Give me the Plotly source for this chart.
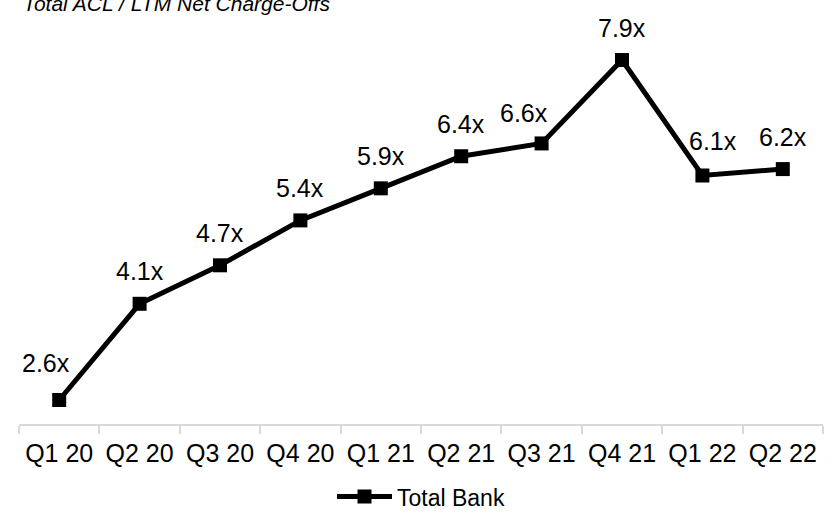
import plotly.graph_objects as go

quarters = ["Q1 20", "Q2 20", "Q3 20", "Q4 20", "Q1 21",
            "Q2 21", "Q3 21", "Q4 21", "Q1 22", "Q2 22"]
coverage = [2.6, 4.1, 4.7, 5.4, 5.9, 6.4, 6.6, 7.9, 6.1, 6.2]
labels = [f"{v:.1f}x" for v in coverage]

# per-label offsets (px) so labels clear the line
label_dx = [-13, 0, 0, 0, 0, 0, -18, 0, 11, 0]
label_dy = [37, 33, 32, 32, 32, 32, 30, 32, 35, 32]

FONT = "Liberation Sans, Arial, sans-serif"

fig = go.Figure()
fig.add_trace(go.Scatter(
    x=quarters, y=coverage, mode="lines+markers", name="Total Bank",
    line=dict(color="#000000", width=5),
    marker=dict(symbol="square", size=14, color="#000000"),
))

for q, v, t, dx, dy in zip(quarters, coverage, labels, label_dx, label_dy):
    fig.add_annotation(x=q, y=v, text=t, showarrow=False, xshift=dx, yshift=dy,
                       font=dict(family=FONT, size=25, color="#000000"))

fig.add_annotation(xref="paper", yref="paper", x=0.003, y=1, xanchor="left",
                   yanchor="bottom", yshift=-7, text="<i>Total ACL / LTM Net Charge-Offs</i>",
                   showarrow=False, font=dict(family=FONT, size=21, color="#000000"))

fig.update_layout(
    width=834, height=520,
    margin=dict(l=19, r=11, t=10, b=96, autoexpand=False),
    paper_bgcolor="white", plot_bgcolor="white",
    font=dict(family=FONT, color="#000000"),
    showlegend=True,
    legend=dict(orientation="h", x=0.5, xanchor="center", y=-0.1235, yanchor="top",
                font=dict(size=23), itemwidth=55, tracegroupgap=0),
    xaxis=dict(type="category", range=[-0.5, 9.5], showline=True, linecolor="#d9d9d9",
               linewidth=2, ticks="outside", tickson="boundaries", ticklen=8,
               tickcolor="#d9d9d9", tickwidth=2, showgrid=False,
               tickfont=dict(size=25, color="#000000"), ticklabelstandoff=6),
    yaxis=dict(range=[2.226, 8.68], visible=False, showgrid=False, zeroline=False),
)

fig.write_html("out.html")
